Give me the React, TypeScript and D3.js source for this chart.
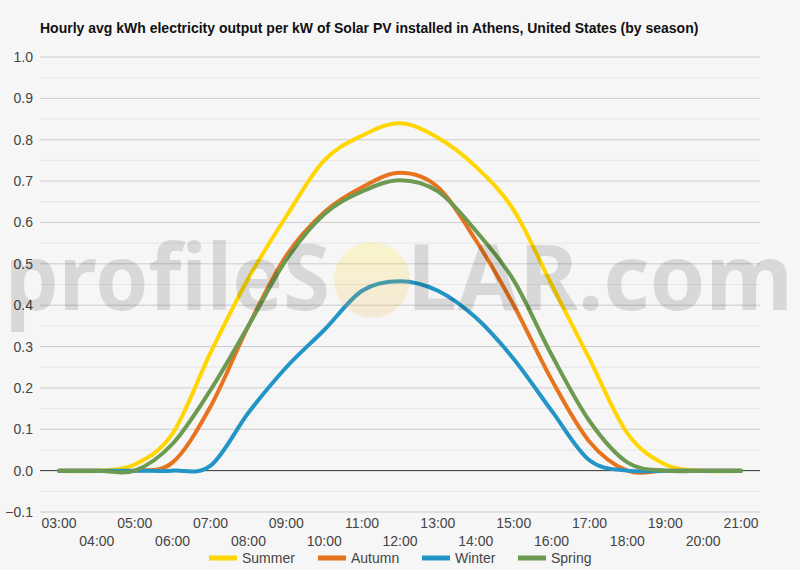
import * as d3 from 'd3';

/**
 * Hourly solar output chart by season (Athens)
 */

const hours = [
  '03:00', '04:00', '05:00', '06:00', '07:00', '08:00', '09:00', '10:00', '11:00', '12:00',
  '13:00', '14:00', '15:00', '16:00', '17:00', '18:00', '19:00', '20:00', '21:00',
];

const summer = [0, 0, 0.015, 0.09, 0.285, 0.465, 0.615, 0.75, 0.81, 0.84, 0.805, 0.735, 0.63, 0.45, 0.27, 0.09, 0.015, 0, 0];
const autumn = [0, 0, 0, 0.02, 0.155, 0.35, 0.52, 0.625, 0.685, 0.72, 0.685, 0.557, 0.4, 0.22, 0.07, 0, 0, 0, 0];
const winter = [0, 0, 0, 0, 0.012, 0.14, 0.25, 0.34, 0.435, 0.458, 0.435, 0.37, 0.27, 0.145, 0.025, 0, 0, 0, 0];
const spring = [0, 0, 0, 0.065, 0.195, 0.35, 0.51, 0.62, 0.675, 0.702, 0.675, 0.58, 0.46, 0.28, 0.12, 0.02, 0, 0, 0];

const yTicks = [-0.1, 0, 0.1, 0.2, 0.3, 0.4, 0.5, 0.6, 0.7, 0.8, 0.9, 1.0];

const seriesNames = ['Summer', 'Autumn', 'Winter', 'Spring'];
const seriesValues = [summer, autumn, winter, spring];
const seriesColors = ['#FFD600', '#E8731E', '#2394C6', '#6C9A50'];

const width = 800;
const height = 570;
const plot = { left: 40, right: 760, top: 57, bottom: 512 };
const font = 'Arial, "Liberation Sans", sans-serif';
const markFont = '"Noto Sans", "DejaVu Sans", sans-serif';

export default function App() {
  const x = d3.scalePoint<string>().domain(hours).range([plot.left, plot.right]).padding(0.5);
  const y = d3.scaleLinear().domain([-0.1, 1.0]).range([plot.bottom, plot.top]);

  const line = d3
    .line<number>()
    .x((_, i) => x(hours[i]) as number)
    .y((d) => y(d))
    .curve(d3.curveCardinal.tension(0));

  // minor gridlines halfway between the major ones
  const minor = yTicks.slice(0, -1).map((t) => t + 0.05);

  const legendX = [209, 318, 422, 518];

  return (
    <svg
      width={width}
      height={height}
      style={{ position: 'absolute', left: 0, top: 0, background: '#f6f6f6' }}
      fontFamily={font}
    >
      <rect width={width} height={height} fill="#f6f6f6" />

      <text x={40} y={33} fontSize={14} fontWeight="bold" fill="#111">
        Hourly avg kWh electricity output per kW of Solar PV installed in Athens, United States (by season)
      </text>

      {/* grid */}
      {minor.map((t) => (
        <line key={'m' + t} x1={plot.left} x2={plot.right} y1={y(t)} y2={y(t)} stroke="#e6e6e6" />
      ))}
      {yTicks.map((t) => (
        <line
          key={'g' + t}
          x1={plot.left}
          x2={plot.right}
          y1={y(t)}
          y2={y(t)}
          stroke={t === 0 ? '#333' : '#cccccc'}
        />
      ))}

      {/* y labels */}
      {yTicks.map((t) => (
        <text key={'y' + t} x={33} y={y(t) + 5} fontSize={14} fill="#444" textAnchor="end">
          {d3.format('.1f')(t)}
        </text>
      ))}

      {/* x labels, alternating rows */}
      {hours.map((h, i) => (
        <text
          key={h}
          x={x(h)}
          y={i % 2 === 0 ? 528 : 546}
          fontSize={14}
          fill="#444"
          textAnchor="middle"
        >
          {h}
        </text>
      ))}

      {/* series */}
      {seriesValues.map((vals, i) => (
        <path
          key={seriesNames[i]}
          d={line(vals) || ''}
          fill="none"
          stroke={seriesColors[i]}
          strokeWidth={4}
          strokeLinejoin="round"
          strokeLinecap="round"
        />
      ))}

      {/* watermark */}
      <defs>
        <linearGradient id="sun" x1="0" y1="0" x2="0" y2="1">
          <stop offset="0%" stopColor="#ffee00" stopOpacity={0.18} />
          <stop offset="100%" stopColor="#f0a030" stopOpacity={0.16} />
        </linearGradient>
      </defs>
      <g pointerEvents="none">
        <text
          x={5}
          y={310}
          fontSize={92}
          fontWeight="bold"
          fontFamily={markFont}
          fill="#000"
          fillOpacity={0.12}
          textLength={325}
          lengthAdjust="spacingAndGlyphs"
        >
          profileS
        </text>
        <circle cx={372} cy={280} r={38} fill="url(#sun)" />
        <text
          x={407}
          y={310}
          fontSize={92}
          fontWeight="bold"
          fontFamily={markFont}
          fill="#000"
          fillOpacity={0.12}
          textLength={386}
          lengthAdjust="spacingAndGlyphs"
        >
          LAR.com
        </text>
      </g>

      {/* legend */}
      {seriesNames.map((n, i) => (
        <g key={'l' + n} transform={`translate(${legendX[i]},558)`}>
          <line x1={0} x2={28} y1={0} y2={0} stroke={seriesColors[i]} strokeWidth={5} />
          <text x={33} y={5} fontSize={14} fill="#444">
            {n}
          </text>
        </g>
      ))}
    </svg>
  );
}
